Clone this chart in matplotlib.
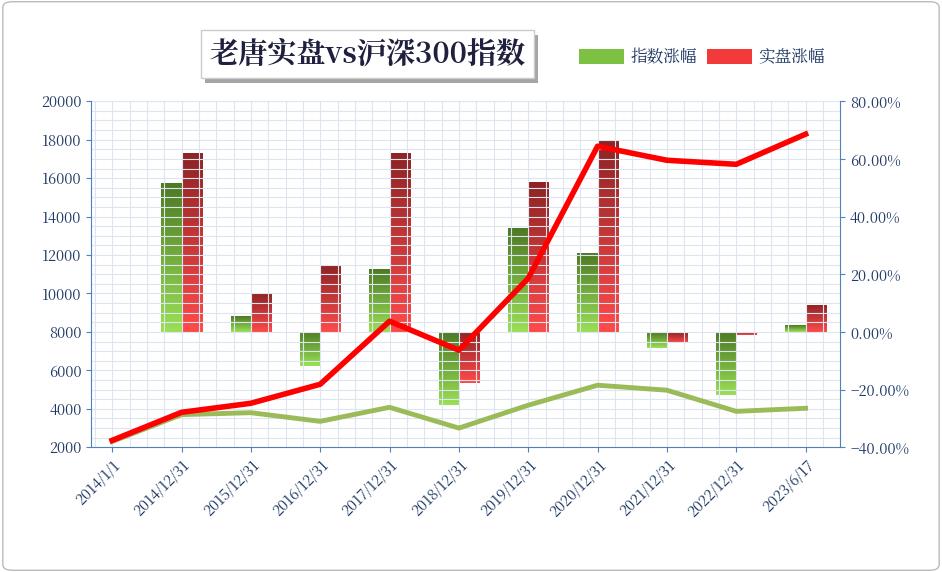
import matplotlib
matplotlib.use("Agg")
import matplotlib.pyplot as plt
import numpy as np
from matplotlib.ticker import PercentFormatter, MultipleLocator
from matplotlib.patches import FancyBboxPatch, Rectangle, Patch
import matplotlib.patheffects as pe
from matplotlib import font_manager as fm

cjk = [f.name for f in fm.fontManager.ttflist if 'CJK' in f.name]
pref = [n for n in cjk if 'SC' in n] or cjk
plt.rcParams['font.family'] = 'sans-serif'
plt.rcParams['font.sans-serif'] = (pref[:1] if pref else []) + ['DejaVu Sans']

dates = ["2014/1/1", "2014/12/31", "2015/12/31", "2016/12/31", "2017/12/31", "2018/12/31",
         "2019/12/31", "2020/12/31", "2021/12/31", "2022/12/31", "2023/6/17"]
index_pct = [None, 51.6, 5.5, -11.8, 21.8, -25.3, 36.0, 27.4, -5.5, -21.8, 2.4]
actual_pct = [None, 62.0, 13.2, 22.9, 62.0, -17.7, 52.0, 66.1, -3.8, -1.0, 9.4]
actual_val = [2360, 3820, 4290, 5280, 8560, 7050, 10790, 17660, 16930, 16720, 18290]
index_val = [2300, 3700, 3800, 3350, 4080, 3000, 4190, 5230, 4970, 3870, 4030]

fig = plt.figure(figsize=(9.42, 5.72), dpi=100)
bg = FancyBboxPatch((0.003, 0.003), 0.994, 0.994, boxstyle="round,pad=0,rounding_size=0.01",
                    transform=fig.transFigure, fc="white", ec="#BBBBBB", lw=1, zorder=-10)
fig.patches.append(bg)
ax = fig.add_axes([0.097, 0.218, 0.795, 0.605])
ax2 = ax.twinx()
x = np.arange(len(dates))
lab = '#1F3864'

ax.set_ylim(2000, 20000)
ax.yaxis.set_major_locator(MultipleLocator(2000))
ax.yaxis.set_minor_locator(MultipleLocator(500))
ax.set_xlim(-0.3, len(dates) - 0.5)
ax.set_xticks(x)
ax.set_xticklabels(dates, rotation=45, ha='right', rotation_mode='anchor', fontsize=10.5)
ax.xaxis.set_minor_locator(MultipleLocator(0.25))
ax.grid(True, which='both', color='#DCE6F2', lw=0.8)
for a in (ax, ax2):
    for s in a.spines.values():
        s.set_visible(False)
ax.spines['left'].set_visible(True); ax.spines['left'].set_color('#4F81BD')
ax2.spines['right'].set_visible(True); ax2.spines['right'].set_color('#4F81BD')
ax.spines['bottom'].set_visible(True); ax.spines['bottom'].set_color('#4F81BD')
ax.tick_params(axis='both', which='minor', length=0)
ax.tick_params(axis='both', colors='#4F81BD', labelcolor=lab, labelsize=10.5)
ax2.tick_params(axis='y', colors='#4F81BD', labelcolor=lab, labelsize=10.5)

w = 0.29
def grad_bar(axx, xc, v, top, bot):
    if v is None:
        return
    y0, y1 = min(0, v), max(0, v)
    r = Rectangle((xc, y0), w, y1 - y0, fc='none', ec='none')
    axx.add_patch(r)
    cm = matplotlib.colors.LinearSegmentedColormap.from_list('g', [top, bot])
    img = axx.imshow(np.linspace(0, 1, 100).reshape(-1, 1), cmap=cm, aspect='auto',
                     extent=(xc, xc + w, y0, y1), origin='upper', zorder=2)
    img.set_clip_path(r)

for i in range(len(dates)):
    grad_bar(ax2, x[i] - w, index_pct[i], '#4E7A24', '#9ADF55')
    grad_bar(ax2, x[i], actual_pct[i], '#8E2424', '#FF4A4A')
ax2.set_xlim(ax.get_xlim())
ax2.set_ylim(-40, 80)
ax2.yaxis.set_major_locator(MultipleLocator(20))
ax2.yaxis.set_major_formatter(PercentFormatter(decimals=2))

# grid on back axis, lines on front
ax2.set_zorder(0); ax.set_zorder(1)
ax.patch.set_visible(False)
ax2.patch.set_visible(False)
ax2.grid(False)
ax.plot(x, index_val, color='#9BBB59', lw=3.5, zorder=3)
ax.plot(x, actual_val, color='#FF0000', lw=4, zorder=4)

fig.text(0.39, 0.905, "老唐实盘vs沪深300指数", fontsize=21, fontweight='bold', color='#1F1F3F',
         ha='center', va='center',
         bbox=dict(boxstyle='square,pad=0.3', fc='white', ec='#CCCCCC',
                   path_effects=[pe.withSimplePatchShadow(offset=(3, -3), alpha=0.5)]))
h = [Patch(fc='#7DC142', ec='none'), Patch(fc='#F23A3A', ec='none')]
fig.legend(h, ["指数涨幅", "实盘涨幅"], loc='center', bbox_to_anchor=(0.745, 0.9), ncol=2,
           frameon=False, fontsize=12, handlelength=2.7, handleheight=1.0, columnspacing=0.6,
           handletextpad=0.4, labelcolor='#1F3864')
fig.savefig("out.png", dpi=100)
